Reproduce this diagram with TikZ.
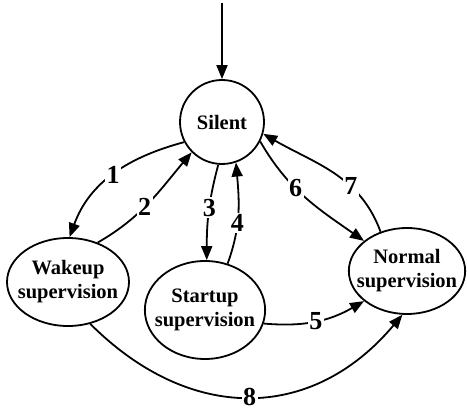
\documentclass[tikz,border=0pt]{standalone}
\usepackage{fontspec}
\setmainfont{Liberation Serif}
\usetikzlibrary{shapes.geometric,arrows.meta}
\begin{document}
\begin{tikzpicture}[x=1pt,y=1pt,
  state/.style={draw,line width=1.8pt,align=center,inner sep=0pt,
    font=\fontsize{20.5}{24}\selectfont\bfseries},
  circ/.style={state,circle,minimum size=84pt},
  oval/.style={state,ellipse},
  tr/.style={line width=1.8pt,-{Triangle[length=14pt,width=11pt]}},
  lbl/.style={fill=white,inner sep=1.5pt,font=\fontsize{26}{26}\selectfont\bfseries}]
\useasboundingbox (0,0) rectangle (467,412);
% states
\node[circ] (s) at (222,290) {Silent};
\node[oval,inner xsep=-7pt,minimum width=122pt,minimum height=88pt] (w) at (68,130) {Wakeup\\supervision};
\node[oval,inner xsep=-7.6pt,minimum width=120pt,minimum height=98pt] (st) at (205,102) {Startup\\supervision};
\node[oval,inner xsep=-9pt,minimum width=116pt,minimum height=86pt] (n) at (407,141) {Normal\\supervision};
% initial transition
\coordinate (init) at (222,409);
\draw[tr] (init) -- (s.north);
% numbered transitions
\draw[tr] (s.208) to[out=195,in=70] node[lbl,pos=0.5] {1} (w.88);
\draw[tr] (w.53) to[out=30,in=230] node[lbl,pos=0.45] {2} (s.225);
\draw[tr] (s.265) to[out=255,in=90] node[lbl,pos=0.45] {3} (st.88);
\draw[tr] (st.64) to[out=70,in=-85] node[lbl,pos=0.4] {4} (s.289);
\draw[tr] (st.-13) to[out=-5,in=210] node[lbl,pos=0.5] {5} (n.215);
\draw[tr] (s.-27) to[out=-60,in=145] node[lbl,pos=0.4] {6} (n.145);
\draw[tr] (n.124) to[out=110,in=-30] node[lbl,pos=0.35] {7} (s.-16);
\draw[tr] (w.-62) to[out=-45,in=-130,looseness=1.15] node[lbl,pos=0.5] {8} (n.-96);
\end{tikzpicture}
\end{document}
